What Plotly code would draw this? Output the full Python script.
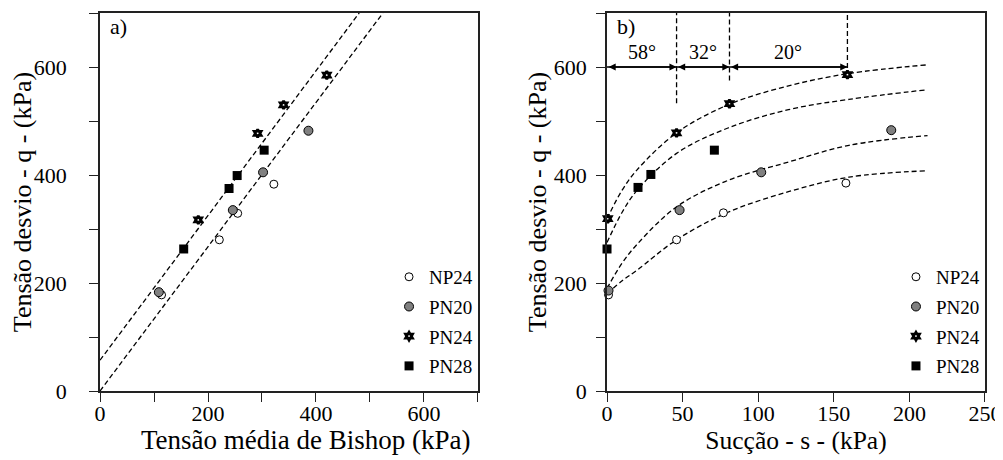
import plotly.graph_objects as go

FONT = "Liberation Serif, Times New Roman, serif"

# ---------- panel a) : q vs Bishop mean stress ----------
series = ["NP24", "PN20", "PN24", "PN28"]
a_p = {
    "NP24": [114, 221, 255, 322],
    "PN20": [109, 246, 302, 386],
    "PN24": [182, 292, 340, 420],
    "PN28": [155, 239, 254, 304],
}
a_q = {
    "NP24": [178, 280, 329, 383],
    "PN20": [183, 335, 405, 482],
    "PN24": [317, 477, 530, 585],
    "PN28": [263, 375, 399, 446],
}
# envelope lines (read endpoints)
a_line_upper_x = [0, 480]
a_line_upper_y = [57, 700]
a_line_lower_x = [0, 524]
a_line_lower_y = [0, 700]

# ---------- panel b) : q vs suction ----------
b_s = {
    "NP24": [1, 46, 77, 158],
    "PN20": [1, 48, 102, 188],
    "PN24": [0.5, 46, 81, 159],
    "PN28": [0, 20.5, 29, 71],
}
b_q = {
    "NP24": [178, 280, 330, 385],
    "PN20": [186, 335, 405, 483],
    "PN24": [319, 478, 532, 586],
    "PN28": [263, 377, 401, 446],
}
fit_s = [0, 10, 20, 46, 80, 120, 160, 212]
fit_q = [
    [319, 372, 410, 478, 530, 565, 588, 604],
    [275, 331, 372, 440, 487, 521, 540, 558],
    [190, 237, 272, 341, 390, 424, 455, 473],
    [180, 204, 224, 280, 331, 369, 396, 408],
]
vline_s = [46, 81, 159]
vline_q_low = [533, 575, 598]
arrow_q = 600
arrow_s = [0, 46, 81, 159]
angle_labels = ["58°", "32°", "20°"]
angle_label_s = [23, 63.5, 120]
angle_label_q = 627

styles = {
    "NP24": dict(symbol="circle", color="white", size=8, line=dict(color="black", width=1)),
    "PN20": dict(symbol="circle", color="#808080", size=9, line=dict(color="black", width=1)),
    "PN24": dict(symbol="hexagram", color="white", size=6, line=dict(color="black", width=2.8)),
    "PN28": dict(symbol="square", color="black", size=9, line=dict(color="black", width=0)),
}

fig = go.Figure()
dash = dict(color="black", width=1.3, dash="5px,3px")

fig.add_trace(go.Scatter(x=a_line_upper_x, y=a_line_upper_y, mode="lines", line=dash,
                         showlegend=False, xaxis="x", yaxis="y", hoverinfo="skip"))
fig.add_trace(go.Scatter(x=a_line_lower_x, y=a_line_lower_y, mode="lines", line=dash,
                         showlegend=False, xaxis="x", yaxis="y", hoverinfo="skip"))

for i, qv in enumerate(fit_q):
    fig.add_trace(go.Scatter(x=fit_s, y=qv, mode="lines", line=dict(dash, shape="spline"),
                             showlegend=False, xaxis="x2", yaxis="y2", hoverinfo="skip"))
for s, ql in zip(vline_s, vline_q_low):
    fig.add_trace(go.Scatter(x=[s, s], y=[ql, 700], mode="lines", line=dash,
                             showlegend=False, xaxis="x2", yaxis="y2", hoverinfo="skip"))
fig.add_trace(go.Scatter(x=[arrow_s[0], arrow_s[-1]], y=[arrow_q, arrow_q], mode="lines",
                         line=dict(color="black", width=1.3), showlegend=False,
                         xaxis="x2", yaxis="y2", hoverinfo="skip"))

for k in series:
    st = styles[k]
    fig.add_trace(go.Scatter(x=a_p[k], y=a_q[k], mode="markers", name=k, marker=st,
                             xaxis="x", yaxis="y", legend="legend", legendgroup="a" + k,
                             cliponaxis=False))
    fig.add_trace(go.Scatter(x=b_s[k], y=b_q[k], mode="markers", name=k, marker=st,
                             xaxis="x2", yaxis="y2", legend="legend2", legendgroup="b" + k,
                             cliponaxis=False))

annotations = []
for i in range(len(arrow_s) - 1):
    annotations.append(dict(x=arrow_s[i + 1], y=arrow_q, ax=arrow_s[i], ay=arrow_q,
                            xref="x2", yref="y2", axref="x2", ayref="y2", text="",
                            showarrow=True, arrowhead=2, startarrowhead=2, arrowside="end+start",
                            arrowsize=1.1, startarrowsize=1.1, arrowwidth=1.3, arrowcolor="black",
                            standoff=0, startstandoff=0))
for t, s in zip(angle_labels, angle_label_s):
    annotations.append(dict(x=s, y=angle_label_q, xref="x2", yref="y2", text=t, showarrow=False,
                            font=dict(family=FONT, size=20, color="black")))
annotations.append(dict(x=0.022, y=0.963, xref="x domain", yref="y domain", text="a)",
                        showarrow=False, xanchor="left", yanchor="middle",
                        font=dict(family=FONT, size=22, color="black")))
annotations.append(dict(x=0.022, y=0.963, xref="x2 domain", yref="y2 domain", text="b)",
                        showarrow=False, xanchor="left", yanchor="middle",
                        font=dict(family=FONT, size=22, color="black")))
# left x-axis title (sits slightly right of the axis centre in the reference)
annotations.append(dict(x=0.2328, y=-0.1296, xref="paper", yref="paper",
                        text="Tensão média de Bishop (kPa)", showarrow=False,
                        xanchor="center", yanchor="middle",
                        font=dict(family=FONT, size=27, color="black")))

axis_common = dict(showline=True, linecolor="#222", linewidth=1.5, mirror=True, ticks="outside",
                   ticklen=9, tickcolor="#222", tickwidth=1.2, showgrid=False, zeroline=False,
                   automargin=False,
                   tickfont=dict(family=FONT, size=22, color="black"))
minor_common = dict(dtick=100, ticks="outside", ticklen=9, tickcolor="#222", tickwidth=1.2)
ytitle_font = dict(family=FONT, size=26, color="black")

legend_common = dict(font=dict(family=FONT, size=19, color="black"), bgcolor="rgba(0,0,0,0)",
                     tracegroupgap=2, itemsizing="trace", xanchor="left", yanchor="top")

# page body has an 8px margin: figure is sized/placed so the plot areas land where the
# reference has them (page x 100-478 / 607-985, y 13-391)
fig.update_layout(
    width=995, height=452, paper_bgcolor="white", plot_bgcolor="white",
    margin=dict(l=92, r=18, t=5, b=69, autoexpand=False),
    showlegend=True,
    font=dict(family=FONT, color="black"),
    xaxis=dict(axis_common, domain=[0, 0.4271], range=[0, 700], tickvals=[0, 200, 400, 600],
               minor=minor_common, ticklabelstandoff=-7, anchor="y"),
    yaxis=dict(axis_common, domain=[0, 1], range=[0, 700], tickvals=[0, 200, 400, 600],
               minor=minor_common, ticklabelstandoff=18,
               title=dict(text="Tensão desvio - q - (kPa)", font=ytitle_font, standoff=4),
               anchor="x"),
    xaxis2=dict(axis_common, domain=[0.5729, 1], range=[0, 250], dtick=50, ticklabelstandoff=-7,
                title=dict(text="Sucção - s - (kPa)",
                           font=dict(family=FONT, size=25.5, color="black"), standoff=1),
                anchor="y2"),
    yaxis2=dict(axis_common, domain=[0, 1], range=[0, 700], tickvals=[0, 200, 400, 600],
                minor=minor_common, ticklabelstandoff=5,
                title=dict(text="Tensão desvio - q - (kPa)", font=ytitle_font, standoff=0),
                anchor="x2"),
    legend=dict(legend_common, x=0.3266, y=0.352),
    legend2=dict(legend_common, x=0.8994, y=0.352),
    annotations=annotations,
)

fig.write_html("out.html")
